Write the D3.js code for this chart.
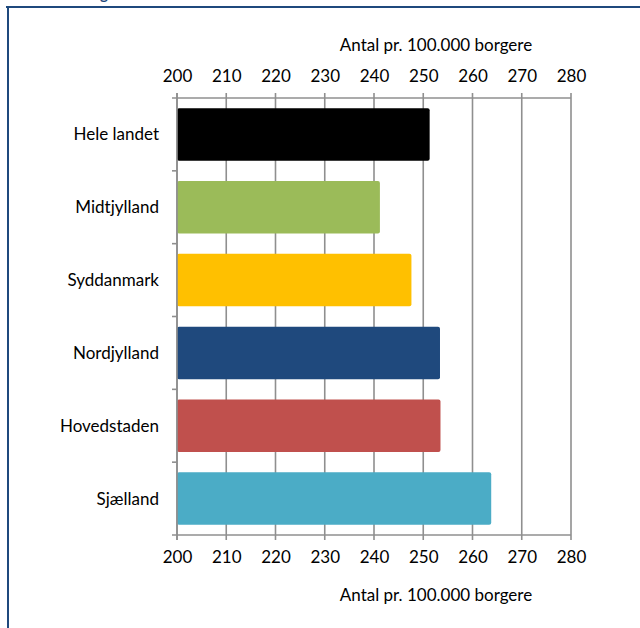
<!DOCTYPE html>
<html><head><meta charset="utf-8">
<script src="https://cdn.jsdelivr.net/npm/d3@7"></script>
<style>
html,body{margin:0;padding:0;background:#fff;}
svg{display:block;font-family:Lato, "Open Sans", sans-serif;}
</style></head>
<body>
<svg id="chart" width="640" height="628"></svg>
<script>
const categories = ["Hele landet","Midtjylland","Syddanmark","Nordjylland","Hovedstaden","Sjælland"];
const values = [251.3, 241.2, 247.6, 253.4, 253.5, 263.8];
const colors = ["#000000","#9BBB59","#FFC000","#1F497D","#C0504D","#4BACC6"];
const tickValues = [200,210,220,230,240,250,260,270,280];
const axisTitle = "Antal pr. 100.000 borgere";
const headerText = "100.000 borgere";

(function(){
const svg = d3.select("#chart");
const pLeft = 177, pRight = 571, pTop = 98, pBottom = 535;
const fs = 17;

// frame
svg.append("text").attr("x", 18).attr("y", -1).attr("font-weight", "bold")
  .attr("font-size", 15).attr("fill", "#1F497D").text(headerText);
svg.append("line").attr("x1", 6).attr("x2", 640).attr("y1", 7).attr("y2", 7)
  .attr("stroke", "#1F497D").attr("stroke-width", 2);
svg.append("line").attr("x1", 8).attr("x2", 8).attr("y1", 6).attr("y2", 628)
  .attr("stroke", "#1F497D").attr("stroke-width", 2);

const x = d3.scaleLinear().domain([200, 280]).range([pLeft, pRight]);
const y = d3.scaleBand().domain(categories).range([pTop, pBottom]).paddingInner(0.28).paddingOuter(0.14);

const grid = "#8f8f8f";
svg.append("g").selectAll("line").data(tickValues).join("line")
  .attr("x1", d => x(d)).attr("x2", d => x(d)).attr("y1", pTop - 5).attr("y2", pBottom + 5)
  .attr("stroke", grid).attr("stroke-width", 1.6);

const xTop = d3.axisTop(x).tickValues(tickValues).tickSize(0).tickPadding(16).tickFormat(d3.format("d"));
const gTop = svg.append("g").attr("transform", `translate(0,${pTop})`).call(xTop);
const xBot = d3.axisBottom(x).tickValues(tickValues).tickSize(0).tickPadding(16).tickFormat(d3.format("d"));
const gBot = svg.append("g").attr("transform", `translate(0,${pBottom})`).call(xBot);
[gTop, gBot].forEach(g => {
  g.select(".domain").remove();
  g.selectAll("text").attr("font-size", fs).attr("fill", "#000").attr("font-family", "Lato, sans-serif");
});
svg.append("line").attr("x1", pLeft - 5).attr("x2", pRight).attr("y1", pTop).attr("y2", pTop)
  .attr("stroke", grid).attr("stroke-width", 1.6);
svg.append("line").attr("x1", pLeft - 5).attr("x2", pRight).attr("y1", pBottom).attr("y2", pBottom)
  .attr("stroke", grid).attr("stroke-width", 1.6);

const boundaries = d3.range(1, categories.length).map(i => pTop + (pBottom - pTop) * i / categories.length);
svg.append("g").selectAll("line").data(boundaries).join("line")
  .attr("x1", pLeft - 5).attr("x2", pLeft).attr("y1", d => d).attr("y2", d => d)
  .attr("stroke", grid).attr("stroke-width", 1.6);

svg.append("g").selectAll("rect").data(categories).join("rect")
  .attr("x", x(200)).attr("y", d => y(d))
  .attr("width", (d, i) => x(values[i]) - x(200)).attr("height", y.bandwidth())
  .attr("rx", 2).attr("fill", (d, i) => colors[i]);

svg.append("line").attr("x1", pLeft).attr("x2", pLeft).attr("y1", pTop - 5).attr("y2", pBottom + 5)
  .attr("stroke", grid).attr("stroke-width", 1.6);

svg.append("g").selectAll("text").data(categories).join("text")
  .attr("x", 159).attr("y", d => y(d) + y.bandwidth() / 2).attr("dy", "0.35em")
  .attr("text-anchor", "end").attr("font-size", fs).attr("fill", "#000").text(d => d);

svg.append("text").attr("x", 436).attr("y", 51).attr("text-anchor", "middle")
  .attr("font-size", fs).attr("fill", "#000").text(axisTitle);
svg.append("text").attr("x", 436).attr("y", 601).attr("text-anchor", "middle")
  .attr("font-size", fs).attr("fill", "#000").text(axisTitle);
})();
</script>
</body></html>
